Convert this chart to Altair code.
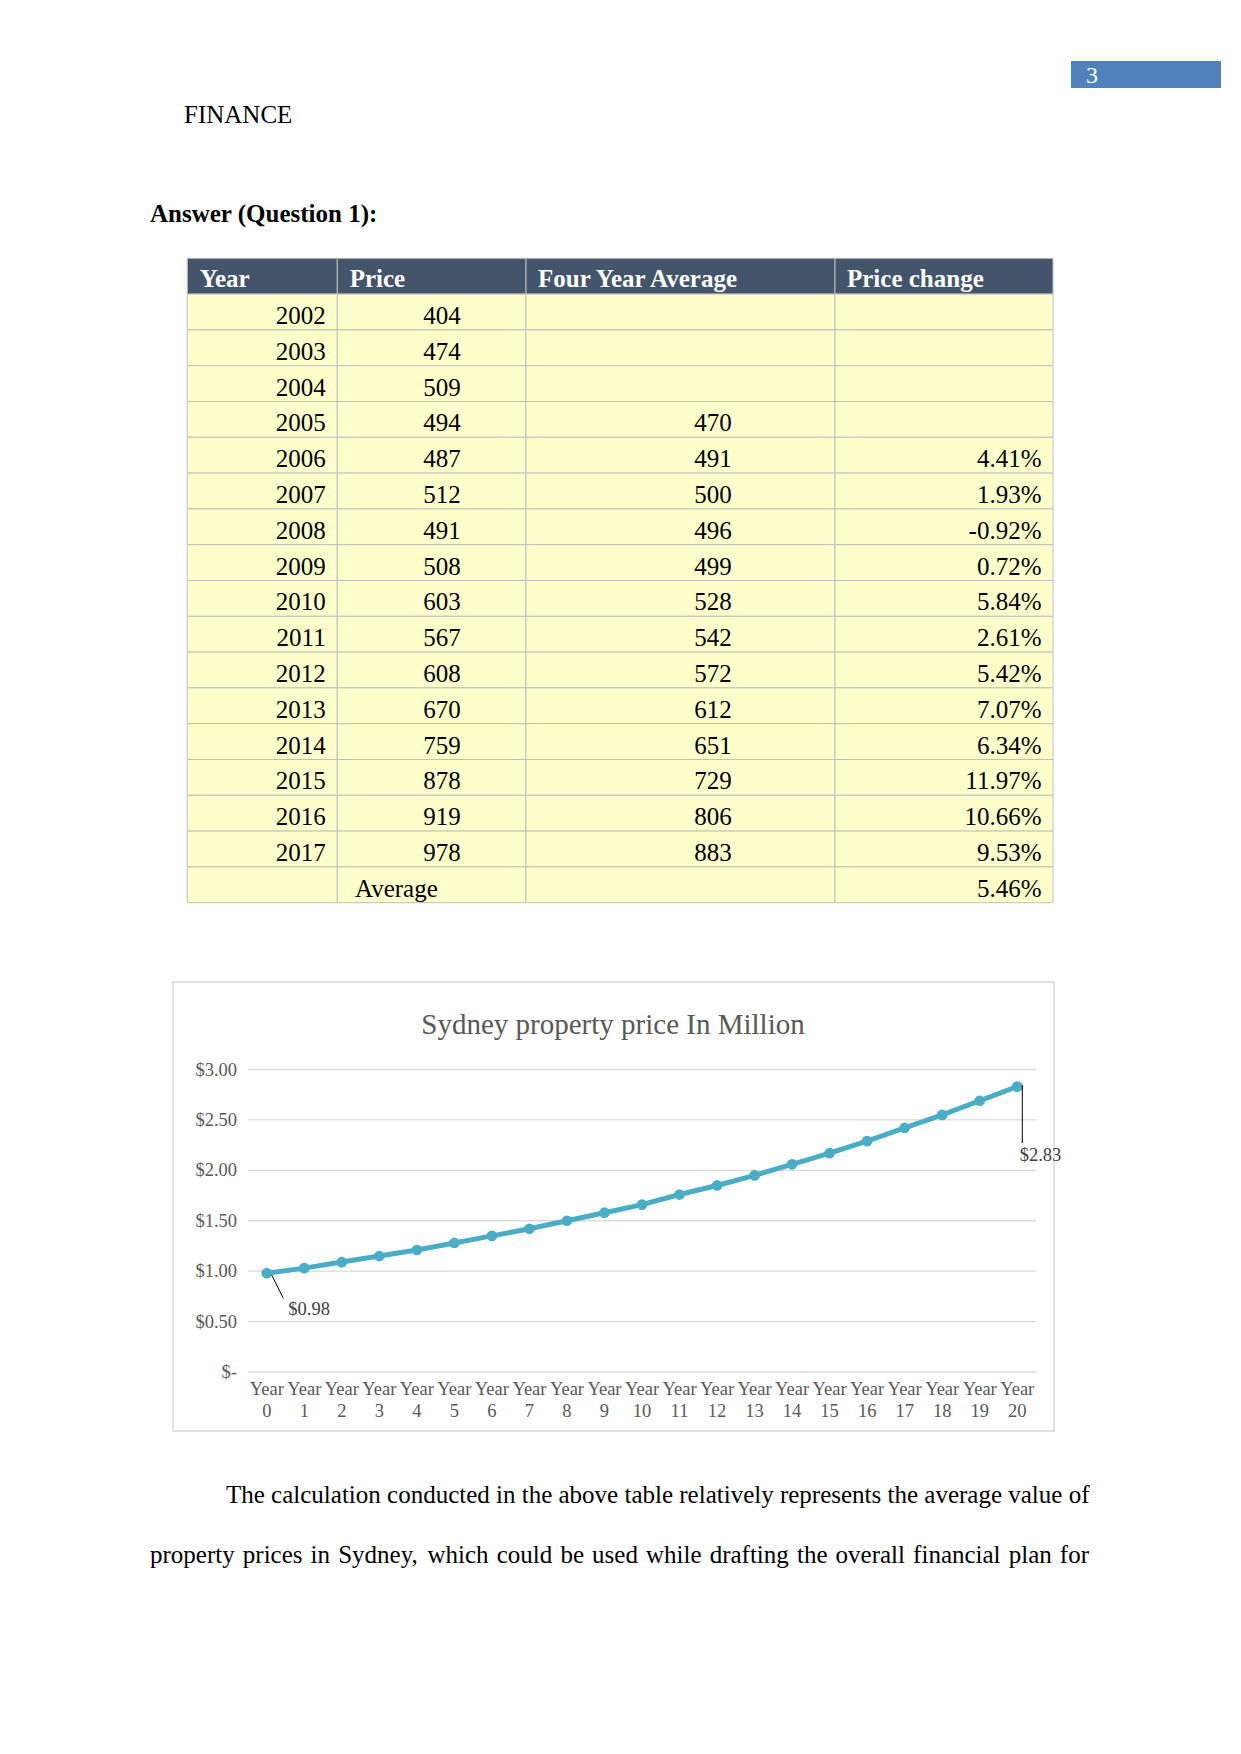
import altair as alt
import pandas as pd

# ---------------- data ----------------
years = ["2002", "2003", "2004", "2005", "2006", "2007", "2008", "2009",
         "2010", "2011", "2012", "2013", "2014", "2015", "2016", "2017"]
prices = [404, 474, 509, 494, 487, 512, 491, 508, 603, 567, 608, 670, 759, 878, 919, 978]
four_year_avg = [None, None, None, 470, 491, 500, 496, 499, 528, 542, 572, 612, 651, 729, 806, 883]
price_change = [None, None, None, None, 4.41, 1.93, -0.92, 0.72, 5.84, 2.61, 5.42, 7.07,
                6.34, 11.97, 10.66, 9.53]
average_label = "Average"
average_change = 5.46
table_headers = ["Year", "Price", "Four Year Average", "Price change"]

chart_title = "Sydney property price In Million"
chart_cats = ["0", "1", "2", "3", "4", "5", "6", "7", "8", "9", "10",
              "11", "12", "13", "14", "15", "16", "17", "18", "19", "20"]
chart_values = [0.98, 1.03, 1.09, 1.15, 1.21, 1.28, 1.35, 1.42, 1.50, 1.58, 1.66,
                1.76, 1.85, 1.95, 2.06, 2.17, 2.29, 2.42, 2.55, 2.69, 2.83]
y_ticks = [0, 0.5, 1.0, 1.5, 2.0, 2.5, 3.0]
y_tick_labels = ["$-", "$0.50", "$1.00", "$1.50", "$2.00", "$2.50", "$3.00"]

page_number = "3"
running_head = "FINANCE"
section_title = "Answer (Question 1):"
para_line1 = "The calculation conducted in the above table relatively represents the average value of"
para_line2 = "property prices in Sydney, which could be used while drafting the overall financial plan for"

SERIF = "Liberation Serif"
one = pd.DataFrame({"a": [0]})

# ---------------- page header ----------------
header = alt.layer(
    alt.Chart(one).mark_rect(color="#4F81BD").encode(
        x=alt.value(1063), x2=alt.value(1213), y=alt.value(53), y2=alt.value(80)),
    alt.Chart(one).mark_text(text=page_number, font=SERIF, fontSize=24, color="white",
                             align="left", baseline="alphabetic").encode(
        x=alt.value(1078), y=alt.value(75)),
    alt.Chart(one).mark_text(text=running_head, font=SERIF, fontSize=25, color="black",
                             align="left", baseline="alphabetic").encode(
        x=alt.value(176), y=alt.value(115)),
    alt.Chart(one).mark_text(text=section_title, font=SERIF, fontSize=25, fontWeight="bold",
                             color="black", align="left", baseline="alphabetic").encode(
        x=alt.value(142), y=alt.value(213.7)),
)

# ---------------- table ----------------
row_keys = ["head"] + years + ["avg"]
row_scale = alt.Scale(type="band", domain=row_keys, range=[250.3, 894.7],
                      paddingInner=0, paddingOuter=0)

def fmt_int(v):
    return "" if v is None else str(v)

def fmt_pct(v):
    return "" if v is None else f"{v:.2f}%"

col_texts = [
    [table_headers[0]] + years + [""],
    [table_headers[1]] + [fmt_int(p) for p in prices] + [""],
    [table_headers[2]] + [fmt_int(v) for v in four_year_avg] + [""],
    [table_headers[3]] + [fmt_pct(v) for v in price_change] + [fmt_pct(average_change)],
]
col_layout = [
    dict(left=179.3, right=329.3, head_x=191.7, body_x=317.7, align="right"),
    dict(left=329.3, right=518.0, head_x=341.7, body_x=434.0, align="center"),
    dict(left=518.0, right=827.0, head_x=530.0, body_x=705.0, align="center"),
    dict(left=827.0, right=1045.0, head_x=839.0, body_x=1033.5, align="right"),
]

table_layers = []
for texts, lay in zip(col_texts, col_layout):
    df = pd.DataFrame({
        "row": row_keys,
        "txt": texts,
        "kind": ["head"] + ["body"] * (len(row_keys) - 1),
    })
    base = alt.Chart(df)
    table_layers.append(
        base.mark_rect(stroke="#BFBFBF", strokeWidth=1).encode(
            y=alt.Y("row:O", scale=row_scale, axis=None),
            x=alt.value(lay["left"]), x2=alt.value(lay["right"]),
            fill=alt.condition(alt.datum.kind == "head", alt.value("#44546A"),
                               alt.value("#FFFFCC")),
        )
    )
    table_layers.append(
        base.transform_filter(alt.datum.kind == "head").mark_text(
            font=SERIF, fontSize=25, fontWeight="bold", color="white",
            align="left", baseline="alphabetic", dy=10.5).encode(
            y=alt.Y("row:O", scale=row_scale, axis=None),
            x=alt.value(lay["head_x"]), text="txt:N")
    )
    table_layers.append(
        base.transform_filter(alt.datum.kind == "body").mark_text(
            font=SERIF, fontSize=25, color="black",
            align=lay["align"], baseline="alphabetic", dy=12).encode(
            y=alt.Y("row:O", scale=row_scale, axis=None),
            x=alt.value(lay["body_x"]), text="txt:N")
    )

avg_df = pd.DataFrame({"row": ["avg"], "txt": [average_label]})
table_layers.append(
    alt.Chart(avg_df).mark_text(font=SERIF, fontSize=25, color="black",
                                align="left", baseline="alphabetic", dy=12).encode(
        y=alt.Y("row:O", scale=row_scale, axis=None),
        x=alt.value(347.0), text="txt:N")
)
table = alt.layer(*table_layers)

# ---------------- line chart ----------------
x_scale = alt.Scale(type="point", domain=chart_cats, range=[240, 1028], padding=0.5)
y_scale = alt.Scale(type="linear", domain=[0, 3], range=[1364, 1061.5], nice=False, zero=True)

cdf = pd.DataFrame({"yr": chart_cats, "val": chart_values})
tdf = pd.DataFrame({"tick": y_ticks, "label": y_tick_labels})
LINE = "#4BACC6"
GREY = "#595959"

frame = alt.Chart(one).mark_rect(fill="white", stroke="#D9D9D9", strokeWidth=1.5).encode(
    x=alt.value(165), x2=alt.value(1046), y=alt.value(974), y2=alt.value(1423))
title = alt.Chart(one).mark_text(text=chart_title, font=SERIF, fontSize=29, color=GREY,
                                 align="center", baseline="middle").encode(
    x=alt.value(605), y=alt.value(1017))
grid = alt.Chart(tdf).mark_rule(color="#D9D9D9", strokeWidth=1.3).encode(
    y=alt.Y("tick:Q", scale=y_scale, axis=None),
    x=alt.value(240), x2=alt.value(1028))
ylabels = alt.Chart(tdf).mark_text(font=SERIF, fontSize=18.5, color=GREY,
                                   align="right", baseline="middle").encode(
    y=alt.Y("tick:Q", scale=y_scale, axis=None),
    x=alt.value(229), text="label:N")
xlab1 = alt.Chart(cdf).mark_text(text="Year", font=SERIF, fontSize=18.5, color=GREY,
                                 align="center", baseline="middle").encode(
    x=alt.X("yr:O", scale=x_scale, axis=None), y=alt.value(1381))
xlab2 = alt.Chart(cdf).mark_text(font=SERIF, fontSize=18.5, color=GREY,
                                 align="center", baseline="middle").encode(
    x=alt.X("yr:O", scale=x_scale, axis=None), y=alt.value(1403), text="yr:N")
line = alt.Chart(cdf).mark_line(color=LINE, strokeWidth=5).encode(
    x=alt.X("yr:O", scale=x_scale, axis=None, sort=chart_cats),
    y=alt.Y("val:Q", scale=y_scale, axis=None))
pts = alt.Chart(cdf).mark_circle(color=LINE, size=115, opacity=1).encode(
    x=alt.X("yr:O", scale=x_scale, axis=None),
    y=alt.Y("val:Q", scale=y_scale, axis=None))
leader1 = alt.Chart(one).mark_rule(color="black", strokeWidth=1).encode(
    x=alt.value(263.7), y=alt.value(1267), x2=alt.value(275.3), y2=alt.value(1290.3))
leader2 = alt.Chart(one).mark_rule(color="black", strokeWidth=1).encode(
    x=alt.value(1014.3), y=alt.value(1077), x2=alt.value(1014.3), y2=alt.value(1135))
first_lab = alt.Chart(cdf).transform_filter(alt.datum.yr == chart_cats[0]).mark_text(
    font=SERIF, fontSize=18.5, color="#404040", align="left", baseline="alphabetic",
    dx=21.6, dy=41.7).encode(
    x=alt.X("yr:O", scale=x_scale, axis=None),
    y=alt.Y("val:Q", scale=y_scale, axis=None),
    text=alt.Text("val:Q", format="$.2f"))
last_lab = alt.Chart(cdf).transform_filter(alt.datum.yr == chart_cats[-1]).mark_text(
    font=SERIF, fontSize=18.5, color="#404040", align="left", baseline="alphabetic",
    dx=2.4, dy=74.3).encode(
    x=alt.X("yr:O", scale=x_scale, axis=None),
    y=alt.Y("val:Q", scale=y_scale, axis=None),
    text=alt.Text("val:Q", format="$.2f"))

linechart = alt.layer(frame, title, grid, ylabels, xlab1, xlab2, line, pts,
                      leader1, leader2, first_lab, last_lab)

# ---------------- paragraph (second line justified word by word) ----------------
# Times / Liberation Serif advance widths (per 1000 em) for the glyphs used
GLYPH_W = {"a": 444, "b": 500, "c": 444, "d": 500, "e": 444, "f": 333, "g": 500,
           "h": 500, "i": 278, "l": 278, "n": 500, "o": 500, "p": 500, "r": 333,
           "s": 389, "t": 278, "u": 500, "v": 500, "w": 722, "y": 500, "S": 556,
           ",": 250}
FS = 25.0

def text_w(s):
    return sum(GLYPH_W.get(ch, 500) for ch in s) * FS / 1000.0

line2_left, line2_right = 142.0, 1081.0
words2 = para_line2.split(" ")
natural = sum(text_w(w) for w in words2)
gap = (line2_right - line2_left - natural) / (len(words2) - 1)

para_layers = [
    alt.Chart(one).mark_text(text=para_line1, font=SERIF, fontSize=FS, color="black",
                             align="left", baseline="alphabetic").encode(
        x=alt.value(218), y=alt.value(1495.3))
]
xpos = line2_left
for w in words2:
    para_layers.append(
        alt.Chart(one).mark_text(text=w, font=SERIF, fontSize=FS, color="black",
                                 align="left", baseline="alphabetic").encode(
            x=alt.value(round(xpos, 2)), y=alt.value(1555.3))
    )
    xpos += text_w(w) + gap
para = alt.layer(*para_layers)

chart = alt.layer(header, table, linechart, para).resolve_scale(
    x="independent", y="independent"
).properties(
    width=1225, height=1730, padding=0,
    autosize=alt.AutoSizeParams(type="none"),
    background="white",
).configure_view(stroke=None)

chart.save("out.html", embed_options={"renderer": "svg", "actions": False})
